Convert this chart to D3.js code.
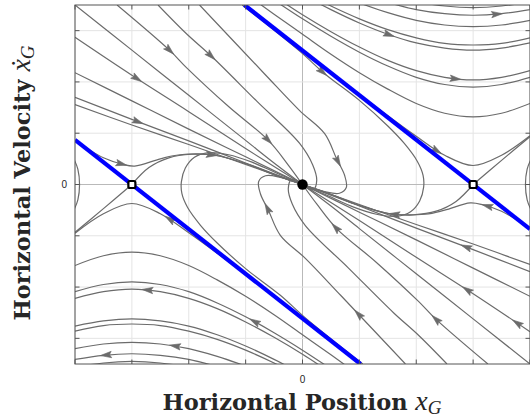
<!DOCTYPE html>
<html>
<head>
<meta charset="utf-8">
<script src="https://cdn.jsdelivr.net/npm/d3@7"></script>
<style>
  body { margin: 0; background: #fff; }
</style>
</head>
<body>
<svg id="myGraph" width="530" height="420"></svg>
<script>
var svgWidth = 530;
var svgHeight = 420;

// axes
var xTicks = [-4, -3, -2, -1, 0, 1, 2, 3, 4];
var yTicks = [-3, -2, -1, 0, 1, 2, 3];
var xTickLabels = [0];
var yTickLabels = [0];

// equilibria
var saddlePoints = [[-3, 0], [3, 0]];
var stablePoints = [[0, 0]];

// blue lines through the saddles
var blueLines = [
  [[-4, 0.87], [1.02, -3.5]],
  [[-1.02, 3.5], [4, -0.87]]
];

// streamlines coming from the upper left into the origin
var upperLeftCurves = [
  [[-4, 3.5], [-3, 2.62], [-2, 1.74], [-1, 0.86], [-0.5, 0.42], [0, 0]],
  [[-3.26, 3.5], [-2.33, 2.61], [-2.04, 2.28], [-1.3, 1.52], [-0.6, 0.86], [-0.25, 0.38], [0, 0]],
  [[-2.54, 3.5], [-2.04, 2.94], [-1.6, 2.5], [-0.8, 1.62], [-0.05, 0.8], [0.18, 0.38], [0.25, 0.08], [0.19, -0.1], [0.06, -0.06], [0, 0]],
  [[-1.81, 3.5], [-0.67, 2.16], [-0.05, 1.44], [0.39, 0.99], [0.6, 0.5], [0.74, 0.18], [0.77, -0.06], [0.65, -0.17], [0.39, -0.14], [0, 0]],
  [[-1.06, 3.5], [-0.05, 2.6], [0.39, 2.16], [1.0, 1.64], [1.5, 1.14], [1.79, 0.8], [2.02, 0.45], [2.12, 0.18], [2.13, -0.05], [2.06, -0.32], [1.9, -0.53], [1.65, -0.62], [1.3, -0.58], [0.9, -0.44], [0.45, -0.22], [0, 0]],
  [[-4, 2.87], [-3, 2.13], [-2, 1.42], [-1, 0.7], [-0.5, 0.35], [0, 0]],
  [[-4, 2.18], [-3, 1.63], [-2, 1.08], [-1, 0.54], [0, 0]],
  [[-4, 1.7], [-3, 1.27], [-2, 0.85], [-1, 0.42], [0, 0]],
  [[-4, 1.56], [-3, 1.16], [-2, 0.78], [-1, 0.39], [0, 0]],
  [[-4, 0.86], [-3.5, 0.52], [-3.18, 0.4], [-2.95, 0.36], [-2.5, 0.5], [-2.16, 0.58], [-1.54, 0.57], [-0.93, 0.38], [-0.4, 0.15], [0, 0]]
];

// streamlines coming from the lower right into the origin
var lowerRightCurves = [
  [[4, -3.5], [3, -2.62], [2, -1.74], [1, -0.86], [0.5, -0.42], [0, 0]],
  [[3.26, -3.5], [2.33, -2.61], [2.04, -2.28], [1.3, -1.52], [0.6, -0.86], [0.25, -0.38], [0, 0]],
  [[2.54, -3.5], [2.04, -2.94], [1.6, -2.5], [0.8, -1.62], [0.05, -0.8], [-0.18, -0.38], [-0.25, -0.08], [-0.19, 0.1], [-0.06, 0.06], [0, 0]],
  [[1.81, -3.5], [0.67, -2.16], [0.05, -1.44], [-0.39, -0.99], [-0.6, -0.5], [-0.74, -0.18], [-0.77, 0.06], [-0.65, 0.17], [-0.39, 0.14], [0, 0]],
  [[1.06, -3.5], [0.05, -2.6], [-0.39, -2.16], [-1.0, -1.64], [-1.5, -1.14], [-1.79, -0.8], [-2.02, -0.45], [-2.12, -0.18], [-2.13, 0.05], [-2.06, 0.32], [-1.9, 0.53], [-1.65, 0.62], [-1.3, 0.58], [-0.9, 0.44], [-0.45, 0.22], [0, 0]],
  [[4, -2.87], [3, -2.13], [2, -1.42], [1, -0.7], [0.5, -0.35], [0, 0]],
  [[4, -2.18], [3, -1.63], [2, -1.08], [1, -0.54], [0, 0]],
  [[4, -1.7], [3, -1.27], [2, -0.85], [1, -0.42], [0, 0]],
  [[4, -1.56], [3, -1.16], [2, -0.78], [1, -0.39], [0, 0]],
  [[4, -0.86], [3.5, -0.52], [3.18, -0.4], [2.95, -0.36], [2.5, -0.5], [2.16, -0.58], [1.54, -0.57], [0.93, -0.38], [0.4, -0.15], [0, 0]]
];

// streamlines escaping to the right (upper right)
var upperRightCurves = [
  [[-1.05, 3.52], [-0.5, 3.05], [0, 2.6], [0.5, 2.19], [1, 1.76], [1.5, 1.34], [2, 0.94], [2.5, 0.57], [3, 0.37], [3.5, 0.57], [4, 0.95]],
  [[-0.75, 3.52], [-0.5, 3.32], [0, 2.93], [0.5, 2.54], [1, 2.18], [1.5, 1.86], [2, 1.58], [2.5, 1.39], [3, 1.32], [3.5, 1.39], [4, 1.58]],
  [[-0.48, 3.58], [0, 3.23], [0.5, 2.89], [1, 2.58], [1.5, 2.31], [2, 2.09], [2.5, 1.95], [3, 1.9], [3.5, 1.95], [4, 2.09]],
  [[-0.4, 3.6], [0, 3.31], [0.5, 2.98], [1, 2.68], [1.5, 2.42], [2, 2.22], [2.5, 2.09], [3, 2.04], [3.5, 2.09], [4, 2.22]],
  [[0, 3.7], [0.5, 3.41], [1, 3.15], [1.5, 2.93], [2, 2.76], [2.5, 2.66], [3, 2.62], [3.5, 2.66], [4, 2.76]],
  [[0.2, 3.65], [0.5, 3.48], [1, 3.23], [1.5, 3.02], [2, 2.86], [2.5, 2.75], [3, 2.72], [3.5, 2.75], [4, 2.86]],
  [[1, 3.54], [1.5, 3.35], [2, 3.2], [2.5, 3.11], [3, 3.08], [3.5, 3.11], [4, 3.2]],
  [[1.5, 3.55], [2, 3.41], [2.5, 3.33], [3, 3.3], [3.5, 3.33], [4, 3.41]],
  [[2, 3.56], [2.5, 3.48], [3, 3.45], [3.5, 3.48], [4, 3.56]]
];

// streamlines escaping to the left (lower left)
var lowerLeftCurves = [
  [[1.05, -3.52], [0.5, -3.05], [0, -2.6], [-0.5, -2.19], [-1, -1.76], [-1.5, -1.34], [-2, -0.94], [-2.5, -0.57], [-3, -0.37], [-3.5, -0.57], [-4, -0.95]],
  [[0.75, -3.52], [0.5, -3.32], [0, -2.93], [-0.5, -2.54], [-1, -2.18], [-1.5, -1.86], [-2, -1.58], [-2.5, -1.39], [-3, -1.32], [-3.5, -1.39], [-4, -1.58]],
  [[0.48, -3.58], [0, -3.23], [-0.5, -2.89], [-1, -2.58], [-1.5, -2.31], [-2, -2.09], [-2.5, -1.95], [-3, -1.9], [-3.5, -1.95], [-4, -2.09]],
  [[0.4, -3.6], [0, -3.31], [-0.5, -2.98], [-1, -2.68], [-1.5, -2.42], [-2, -2.22], [-2.5, -2.09], [-3, -2.04], [-3.5, -2.09], [-4, -2.22]],
  [[0, -3.7], [-0.5, -3.41], [-1, -3.15], [-1.5, -2.93], [-2, -2.76], [-2.5, -2.66], [-3, -2.62], [-3.5, -2.66], [-4, -2.76]],
  [[-0.2, -3.65], [-0.5, -3.48], [-1, -3.23], [-1.5, -3.02], [-2, -2.86], [-2.5, -2.75], [-3, -2.72], [-3.5, -2.75], [-4, -2.86]],
  [[-1, -3.54], [-1.5, -3.35], [-2, -3.2], [-2.5, -3.11], [-3, -3.08], [-3.5, -3.11], [-4, -3.2]],
  [[-1.5, -3.55], [-2, -3.41], [-2.5, -3.33], [-3, -3.3], [-3.5, -3.33], [-4, -3.41]],
  [[-2, -3.56], [-2.5, -3.48], [-3, -3.45], [-3.5, -3.48], [-4, -3.56]]
];

// unstable branches leaving the saddles
var saddleCurves = [
  [[-3, 0], [-2.7, 0.33], [-2.35, 0.52], [-1.95, 0.59], [-1.54, 0.57], [-0.93, 0.38], [-0.4, 0.15], [0, 0]],
  [[-3, 0], [-3.5, -0.47], [-4.05, -0.98]],
  [[3, 0], [2.7, -0.33], [2.35, -0.52], [1.95, -0.59], [1.54, -0.57], [0.93, -0.38], [0.4, -0.15], [0, 0]],
  [[3, 0], [3.5, 0.47], [4.05, 0.98]]
];

// arcs at the left and right edges
var edgeCurves = [
  [[-4.02, 0.5], [-3.95, 0.3], [-3.92, 0], [-3.95, -0.3], [-4.02, -0.5]],
  [[4.02, -0.5], [3.95, -0.3], [3.92, 0], [3.95, 0.3], [4.02, 0.5]]
];

// arrow heads (positions)
var arrowPoints = [
  [-2.33, 2.61], [-1.6, 2.51], [-2.91, 2.03], [-2.89, 1.19], [-3.18, 0.41], [-1.58, 0.57],
  [-0.6, 0.86], [0.6, 0.43], [1.53, 2.94], [2.7, 2.07], [3.42, 3.35], [2.37, 0.66], [0.35, 2.18],
  [0.56, -0.84], [1.61, -0.58], [2.88, -1.19], [2.89, -2.03], [0.95, -2.55], [2.35, -2.61],
  [3.77, -2.69], [-0.63, -0.47], [-0.86, -2.69], [-2.35, -0.7], [-2.74, -2.11], [-2.26, -3.18],
  [-3.46, -3.37], [3.23, -0.43]
];

var svg = d3.select('#myGraph');
var x = d3.scaleLinear().domain([-4, 4]).range([75, 530]);
var y = d3.scaleLinear().domain([-3.5, 3.5]).range([364, 5]);

svg.append('defs').append('clipPath').attr('id', 'plotClip')
  .append('rect')
  .attr('x', x(-4)).attr('y', y(3.5))
  .attr('width', x(4) - x(-4)).attr('height', y(-3.5) - y(3.5));

// grid
var grid = svg.append('g');
grid.selectAll('.gx').data(xTicks).enter().append('line')
  .attr('x1', function(d) { return x(d); })
  .attr('x2', function(d) { return x(d); })
  .attr('y1', y(3.5)).attr('y2', y(-3.5))
  .attr('stroke', function(d) { return d === 0 ? '#b9b9b9' : '#e4e4e4'; })
  .attr('stroke-width', 1);
grid.selectAll('.gy').data(yTicks).enter().append('line')
  .attr('y1', function(d) { return y(d); })
  .attr('y2', function(d) { return y(d); })
  .attr('x1', x(-4)).attr('x2', x(4))
  .attr('stroke', function(d) { return d === 0 ? '#b9b9b9' : '#e4e4e4'; })
  .attr('stroke-width', 1);

// streamlines
var line = d3.line()
  .x(function(d) { return x(d[0]); })
  .y(function(d) { return y(d[1]); })
  .curve(d3.curveCatmullRom.alpha(0.5));

var plot = svg.append('g').attr('clip-path', 'url(#plotClip)');
var allCurves = [].concat(upperLeftCurves, lowerRightCurves, upperRightCurves,
  lowerLeftCurves, saddleCurves, edgeCurves);

var streams = plot.selectAll('.stream').data(allCurves).enter().append('path')
  .attr('class', 'stream')
  .attr('d', line)
  .attr('fill', 'none')
  .attr('stroke', '#6b6b6b')
  .attr('stroke-width', 1.2);

// arrow heads snapped to the nearest streamline
var nodes = streams.nodes();
var heads = [];
arrowPoints.forEach(function(p) {
  var px = x(p[0]), py = y(p[1]);
  var best = null;
  nodes.forEach(function(n) {
    var total = n.getTotalLength();
    for (var l = 0; l <= total; l += 1) {
      var q = n.getPointAtLength(l);
      var dd = (q.x - px) * (q.x - px) + (q.y - py) * (q.y - py);
      if (!best || dd < best.dd) best = { dd: dd, node: n, l: l, total: total };
    }
  });
  var a = best.node.getPointAtLength(Math.max(0, best.l - 3));
  var b = best.node.getPointAtLength(Math.min(best.total, best.l + 3));
  var c = best.node.getPointAtLength(best.l);
  heads.push({ x: c.x, y: c.y, angle: Math.atan2(b.y - a.y, b.x - a.x) * 180 / Math.PI });
});

plot.selectAll('.head').data(heads).enter().append('path')
  .attr('class', 'head')
  .attr('d', 'M5,0 L-6,-3.2 L-4,0 L-6,3.2 Z')
  .attr('transform', function(d) {
    return 'translate(' + d.x + ',' + d.y + ') rotate(' + d.angle + ')';
  })
  .attr('fill', '#6b6b6b')
  .attr('stroke', '#6b6b6b')
  .attr('stroke-width', 0.6);

// blue lines
plot.selectAll('.blue').data(blueLines).enter().append('path')
  .attr('class', 'blue')
  .attr('d', d3.line().x(function(d) { return x(d[0]); }).y(function(d) { return y(d[1]); }))
  .attr('stroke', '#0000ff')
  .attr('stroke-width', 4.2)
  .attr('fill', 'none');

// equilibria
svg.selectAll('.saddle').data(saddlePoints).enter().append('rect')
  .attr('x', function(d) { return x(d[0]) - 3.5; })
  .attr('y', function(d) { return y(d[1]) - 3.5; })
  .attr('width', 7).attr('height', 7).attr('rx', 1.5)
  .attr('fill', '#fff').attr('stroke', '#000').attr('stroke-width', 2.2);

svg.selectAll('.stable').data(stablePoints).enter().append('circle')
  .attr('cx', function(d) { return x(d[0]); })
  .attr('cy', function(d) { return y(d[1]); })
  .attr('r', 5.2)
  .attr('fill', '#000');

// axes box and ticks
var axisColor = '#555555';
svg.append('rect')
  .attr('x', x(-4)).attr('y', y(3.5))
  .attr('width', x(4) - x(-4)).attr('height', y(-3.5) - y(3.5))
  .attr('fill', 'none').attr('stroke', axisColor).attr('stroke-width', 1);

var tickLen = 4.5;
var ticks = svg.append('g').attr('stroke', axisColor).attr('stroke-width', 1);
xTicks.forEach(function(t) {
  ticks.append('line').attr('x1', x(t)).attr('x2', x(t)).attr('y1', y(-3.5)).attr('y2', y(-3.5) - tickLen);
  ticks.append('line').attr('x1', x(t)).attr('x2', x(t)).attr('y1', y(3.5)).attr('y2', y(3.5) + tickLen);
});
yTicks.forEach(function(t) {
  ticks.append('line').attr('y1', y(t)).attr('y2', y(t)).attr('x1', x(-4)).attr('x2', x(-4) + tickLen);
  ticks.append('line').attr('y1', y(t)).attr('y2', y(t)).attr('x1', x(4)).attr('x2', x(4) - tickLen);
});

svg.selectAll('.xtl').data(xTickLabels).enter().append('text')
  .attr('x', function(d) { return x(d); })
  .attr('y', 383)
  .attr('text-anchor', 'middle')
  .style('font-family', '"Liberation Sans", Arial, sans-serif')
  .style('font-size', '10px')
  .style('fill', '#262626')
  .text(function(d) { return d; });

svg.selectAll('.ytl').data(yTickLabels).enter().append('text')
  .attr('x', 67)
  .attr('y', function(d) { return y(d) + 3.5; })
  .attr('text-anchor', 'end')
  .style('font-family', '"Liberation Sans", Arial, sans-serif')
  .style('font-size', '10px')
  .style('fill', '#262626')
  .text(function(d) { return d; });

// axis labels: bold serif words plus italic math symbol with subscript
function addLabel(g, words, symbol) {
  var t = g.append('text')
    .attr('text-anchor', 'middle')
    .style('fill', '#262626');
  t.append('tspan')
    .style('font-family', '"DejaVu Serif", serif')
    .style('font-weight', 'bold')
    .style('font-size', '22.5px')
    .text(words + ' ');
  t.append('tspan')
    .style('font-family', '"Liberation Serif", "Times New Roman", serif')
    .style('font-style', 'italic')
    .style('font-size', '28px')
    .text(symbol);
  t.append('tspan')
    .style('font-family', '"Liberation Serif", "Times New Roman", serif')
    .style('font-style', 'italic')
    .style('font-size', '19px')
    .attr('dy', 4)
    .text('G');
  return t;
}

addLabel(svg.append('g').attr('transform', 'translate(302,410)'), 'Horizontal Position', 'x');
addLabel(svg.append('g').attr('transform', 'translate(30,183) rotate(-90)'), 'Horizontal Velocity', '\u1E8B');
</script>
</body>
</html>
